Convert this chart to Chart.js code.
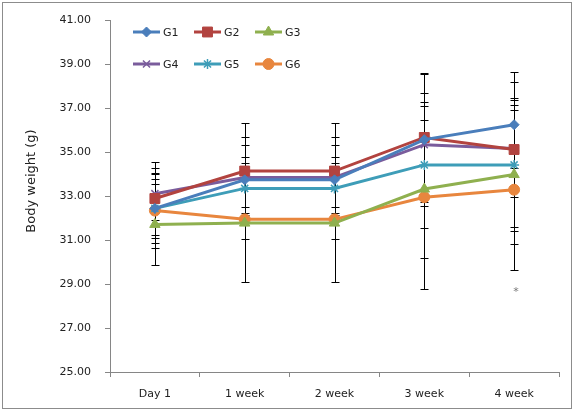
<!DOCTYPE html>
<html>
<head>
<meta charset="utf-8">
<script src="https://cdn.jsdelivr.net/npm/chart.js@4/dist/chart.umd.min.js"></script>
<style>
    body { margin: 0; background: #fff; }
    canvas { display: block; }
</style>
</head>
<body>
<canvas id="weightChart" width="575" height="413"></canvas>
<script>
const labels = ['Day 1', '1 week', '2 week', '3 week', '4 week'];
const yTicks = [25, 27, 29, 31, 33, 35, 37, 39, 41];

const g1 = [32.45, 33.75, 33.75, 35.58, 36.26];
const g2 = [32.90, 34.15, 34.15, 35.68, 35.13];
const g3 = [31.72, 31.78, 31.78, 33.33, 33.99];
const g4 = [33.12, 33.86, 33.86, 35.35, 35.18];
const g5 = [32.45, 33.36, 33.36, 34.43, 34.43];
const g6 = [32.35, 31.95, 31.95, 32.96, 33.30];

// desvio padrao (barras de erro)
const g1Sd = [1.56, 1.59, 1.59, 3.00, 1.95];
const g2Sd = [1.65, 2.17, 2.17, 2.95, 3.53];
const g3Sd = [1.86, 0.73, 0.73, 3.13, 3.15];
const g4Sd = [1.19, 1.86, 1.86, 2.35, 2.20];
const g5Sd = [1.33, 1.14, 1.14, 2.86, 3.03];
const g6Sd = [1.71, 2.83, 2.83, 4.16, 3.65];

const starIndex = 4;
const starValue = 28.65;

const fontFamily = "'DejaVu Sans', sans-serif";
const axisColor = '#868686';

function makeDataset(label, data, sd, color, pointStyle, radius) {
    return {
        label: label,
        data: data,
        sd: sd,
        borderColor: color,
        backgroundColor: color,
        borderWidth: 3,
        tension: 0,
        pointStyle: pointStyle,
        pointRadius: radius,
        pointBackgroundColor: color,
        pointBorderColor: color,
        pointBorderWidth: (pointStyle === 'crossRot' || pointStyle === 'star') ? 1.5 : 1
    };
}

const datasets = [
    makeDataset('G1', g1, g1Sd, '#4A7EBB', 'rectRot', 5),
    makeDataset('G2', g2, g2Sd, '#B2433F', 'rect', 7),
    makeDataset('G3', g3, g3Sd, '#8FB04F', 'triangle', 6),
    makeDataset('G4', g4, g4Sd, '#7A5C9C', 'crossRot', 5),
    makeDataset('G5', g5, g5Sd, '#3E9DB8', 'star', 5),
    makeDataset('G6', g6, g6Sd, '#E8863E', 'circle', 5.5)
];

const errorBars = {
    id: 'errorBars',
    beforeDatasetsDraw(chart) {
        const ctx = chart.ctx;
        const x = chart.scales.x;
        const y = chart.scales.y;
        ctx.save();
        ctx.strokeStyle = '#000';
        ctx.lineWidth = 1;
        chart.data.datasets.forEach(ds => {
            ds.data.forEach((v, i) => {
                const px = Math.round(x.getPixelForValue(i)) + 0.5;
                const top = Math.round(y.getPixelForValue(v + ds.sd[i])) + 0.5;
                const bottom = Math.round(y.getPixelForValue(v - ds.sd[i])) + 0.5;
                ctx.beginPath();
                ctx.moveTo(px, top);
                ctx.lineTo(px, bottom);
                ctx.moveTo(px - 4, top);
                ctx.lineTo(px + 4, top);
                ctx.moveTo(px - 4, bottom);
                ctx.lineTo(px + 4, bottom);
                ctx.stroke();
            });
        });
        ctx.restore();
    }
};

const extras = {
    id: 'extras',
    beforeDraw(chart) {
        const ctx = chart.ctx;
        ctx.save();
        ctx.fillStyle = '#fff';
        ctx.fillRect(0, 0, chart.width, chart.height);
        ctx.restore();
    },
    afterDraw(chart) {
        const ctx = chart.ctx;
        const x = chart.scales.x;
        const y = chart.scales.y;
        ctx.save();

        // moldura
        ctx.strokeStyle = '#8c8c8c';
        ctx.lineWidth = 1;
        ctx.strokeRect(2.5, 2.5, 569, 406);

        // titulo do eixo y
        ctx.fillStyle = '#222';
        ctx.font = '13px ' + fontFamily;
        ctx.textAlign = 'center';
        ctx.textBaseline = 'middle';
        ctx.translate(32, 181);
        ctx.rotate(-Math.PI / 2);
        ctx.fillText('Body weight (g)', 0, 0);
        ctx.setTransform(1, 0, 0, 1, 0, 0);

        // asterisco
        ctx.fillStyle = '#777';
        ctx.font = '11px ' + fontFamily;
        ctx.fillText('*', x.getPixelForValue(starIndex) + 2, y.getPixelForValue(starValue));

        // legenda
        const cols = [133, 194, 255];
        const rows = [32, 64];
        ctx.font = '11px ' + fontFamily;
        ctx.textAlign = 'left';
        chart.data.datasets.forEach((ds, i) => {
            const lx = cols[i % 3];
            const ly = rows[Math.floor(i / 3)];
            ctx.strokeStyle = ds.borderColor;
            ctx.lineWidth = 3;
            ctx.beginPath();
            ctx.moveTo(lx, ly);
            ctx.lineTo(lx + 27, ly);
            ctx.stroke();
            ctx.fillStyle = ds.pointBackgroundColor;
            ctx.strokeStyle = ds.pointBorderColor;
            ctx.lineWidth = ds.pointBorderWidth;
            Chart.helpers.drawPoint(ctx, {
                pointStyle: ds.pointStyle,
                radius: ds.pointRadius,
                rotation: 0,
                borderWidth: ds.pointBorderWidth
            }, lx + 13.5, ly);
            ctx.fillStyle = '#222';
            ctx.fillText(ds.label, lx + 30, ly + 1);
        });
        ctx.restore();
    }
};

const ctx = document.getElementById('weightChart').getContext('2d');
const weightChart = new Chart(ctx, {
    type: 'line',
    data: {
        labels: labels,
        datasets: datasets
    },
    options: {
        responsive: false,
        animation: false,
        layout: { padding: { left: 0, right: 16, top: 19, bottom: 0 } },
        plugins: {
            legend: { display: false },
            tooltip: { enabled: false }
        },
        scales: {
            x: {
                offset: true,
                grid: {
                    offset: true,
                    drawOnChartArea: false,
                    drawTicks: true,
                    tickLength: 5,
                    color: axisColor
                },
                border: { color: axisColor },
                ticks: {
                    padding: 11,
                    color: '#222',
                    font: { family: fontFamily, size: 11 }
                },
                afterFit: s => { s.height = 41; }
            },
            y: {
                min: 25,
                max: 41,
                afterBuildTicks: s => { s.ticks = yTicks.map(v => ({ value: v })); },
                grid: {
                    drawOnChartArea: false,
                    drawTicks: true,
                    tickLength: 5,
                    color: axisColor
                },
                border: { color: axisColor },
                ticks: {
                    padding: 14,
                    color: '#222',
                    font: { family: fontFamily, size: 11 },
                    callback: v => Number(v).toFixed(2)
                },
                afterFit: s => { s.width = 110; }
            }
        }
    },
    plugins: [errorBars, extras]
});
</script>
</body>
</html>
